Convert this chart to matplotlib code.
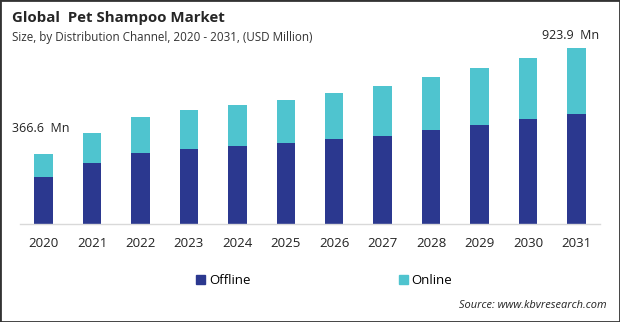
import matplotlib.pyplot as plt
import matplotlib.patches as mpatches
import numpy as np

years = ['2020', '2021', '2022', '2023', '2024', '2025',
         '2026', '2027', '2028', '2029', '2030', '2031']
offline = [247, 319, 371, 392, 408, 424, 445, 465, 492, 518, 549, 580]
online = [119.6, 157, 189, 204, 214, 225, 240, 257, 277, 298, 319, 343.9]
first_label = '366.6  Mn'
last_label = '923.9  Mn'

OFFLINE_COLOR = '#2b388f'
ONLINE_COLOR = '#4fc4cf'

plt.rcParams['font.family'] = ['Open Sans', 'DejaVu Sans']

fig = plt.figure(figsize=(6.2, 3.22), dpi=100)
ax = fig.add_axes([0.032, 0.303, 0.936, 0.604])

x = np.arange(len(years))
ax.bar(x, offline, width=0.38, color=OFFLINE_COLOR, label='Offline')
ax.bar(x, online, width=0.38, bottom=offline, color=ONLINE_COLOR, label='Online')

totals = [a + b for a, b in zip(offline, online)]
ax.annotate(first_label, (x[0], totals[0]), xytext=(-2, 14), textcoords='offset points',
            ha='center', va='bottom', fontsize=9, color='#222222')
ax.annotate(last_label, (x[-1], totals[-1]), xytext=(-4, 4), textcoords='offset points',
            ha='center', va='bottom', fontsize=9, color='#222222')

ax.set_xlim(-0.49, len(years) - 0.51)
ax.set_ylim(0, 1017)
ax.set_xticks(x)
ax.set_xticklabels(years, fontsize=9.5, color='#222222')
ax.tick_params(axis='x', length=0, pad=9)
ax.set_yticks([])
for s in ['top', 'right', 'left']:
    ax.spines[s].set_visible(False)
ax.spines['bottom'].set_color('#d9d9d9')
ax.spines['bottom'].set_linewidth(1)

fig.text(0.019, 0.965, 'Global  Pet Shampoo Market', fontsize=10.8, weight='bold',
         ha='left', va='top', color='#262626')
fig.text(0.019, 0.905, 'Size, by Distribution Channel, 2020 - 2031, (USD Million)',
         fontsize=8.4, ha='left', va='top', color='#333333')

handles = [mpatches.Patch(color=OFFLINE_COLOR), mpatches.Patch(color=ONLINE_COLOR)]
leg = fig.legend(handles, ['Offline', 'Online'], loc='center', bbox_to_anchor=(0.523, 0.128),
                 ncol=2, frameon=False, fontsize=9.5, handlelength=0.7, handleheight=0.7,
                 handletextpad=0.3, columnspacing=11.2)

fig.text(0.979, 0.035, 'Source: www.kbvresearch.com', fontsize=7.9, style='italic',
         ha='right', va='bottom', color='#222222')

fig.patches.append(mpatches.Rectangle((0, 0), 1, 1, transform=fig.transFigure,
                                      fill=False, edgecolor='#333333', linewidth=2))

plt.savefig('out.png', dpi=100)
